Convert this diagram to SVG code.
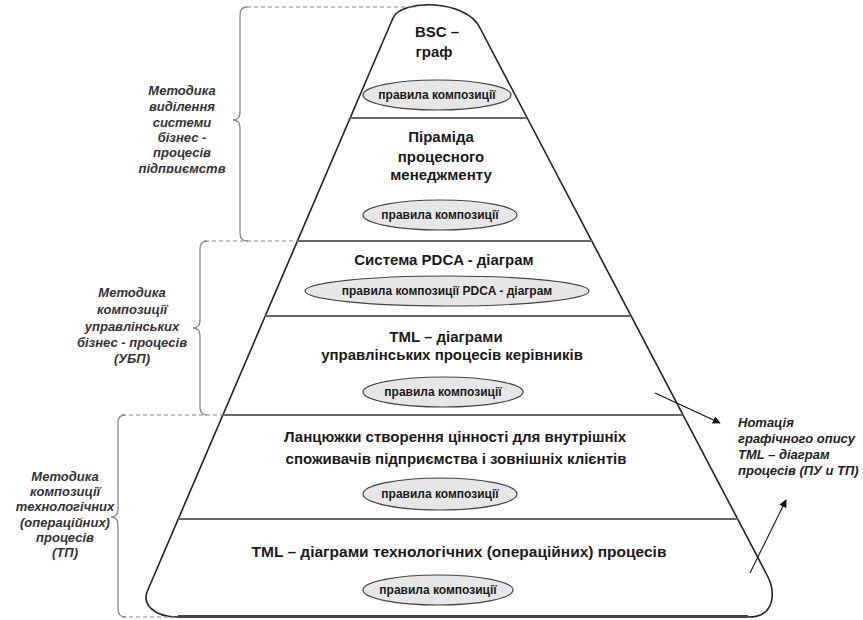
<svg xmlns="http://www.w3.org/2000/svg" width="863" height="620" viewBox="0 0 863 620">
<style>
.title{font-family:"Liberation Sans",Arial,sans-serif;font-weight:bold;font-size:15px;fill:#1a1a1a;text-anchor:middle}
.rule{font-family:"Liberation Sans",Arial,sans-serif;font-weight:bold;font-size:12px;fill:#1a1a1a;text-anchor:middle}
.side{font-family:"Liberation Sans",Arial,sans-serif;font-weight:bold;font-style:italic;font-size:13px;fill:#333;text-anchor:middle}
.note{font-family:"Liberation Sans",Arial,sans-serif;font-weight:bold;font-style:italic;font-size:13px;fill:#222}
.ell{fill:#e6e6e6;stroke:#444;stroke-width:1.2}
.sep{stroke:#666;stroke-width:2;fill:none}
.brace{stroke:#888;stroke-width:1.3;fill:none}
.dash{stroke:#888;stroke-width:1.2;stroke-dasharray:4 3;fill:none}
.arr{stroke:#111;stroke-width:1.1;fill:none;marker-end:url(#ah)}
</style>
<defs>
<marker id="ah" viewBox="0 0 10 10" refX="9" refY="5" markerWidth="8" markerHeight="8" orient="auto" markerUnits="userSpaceOnUse">
<path d="M0,0 L10,5 L0,10 Z" fill="#111"/>
</marker>
<clipPath id="cl1"><rect x="0" y="0" width="240" height="173"/></clipPath>
</defs>
<rect width="863" height="620" fill="#fff"/>

<g id="pyramid">
<path d="M 178,617 C 152,617 143,603 147,592 L 393,18 C 401,-1 466,-1 480,28 L 767,575 C 775,590 777,617 748,617 Z" fill="#fff" stroke="#222" stroke-width="1.6"/>
<line x1="178" y1="616.5" x2="748" y2="616.5" stroke="#444" stroke-width="3"/>
<line class="sep" x1="350" y1="118" x2="527" y2="118"/>
<line class="sep" x1="297" y1="241" x2="592" y2="241"/>
<line class="sep" x1="265" y1="316" x2="631" y2="316"/>
<line class="sep" x1="223" y1="415" x2="683" y2="415"/>
<line class="sep" x1="178" y1="519" x2="738" y2="519"/>
</g>

<g id="level1">
<text class="title" x="437" y="37">BSC –</text>
<text class="title" x="434" y="57">граф</text>
<ellipse class="ell" cx="437" cy="95" rx="74" ry="15"/>
<text class="rule" x="437" y="99">правила композиції</text>
</g>

<g id="level2">
<text class="title" x="441" y="142">Піраміда</text>
<text class="title" x="441" y="162">процесного</text>
<text class="title" x="441" y="180">менеджменту</text>
<ellipse class="ell" cx="440" cy="215" rx="77" ry="15"/>
<text class="rule" x="440" y="219">правила композиції</text>
</g>

<g id="level3">
<text class="title" x="444" y="265">Система PDCA - діаграм</text>
<ellipse class="ell" cx="447" cy="291" rx="142" ry="15"/>
<text class="rule" x="447" y="295">правила композиції PDCA - діаграм</text>
</g>

<g id="level4">
<text class="title" x="446" y="342">TML – діаграми</text>
<text class="title" x="452" y="360">управлінських процесів керівників</text>
<ellipse class="ell" cx="443" cy="392" rx="80" ry="15"/>
<text class="rule" x="443" y="396">правила композиції</text>
</g>

<g id="level5">
<text class="title" x="455" y="442">Ланцюжки створення цінності для внутрішніх</text>
<text class="title" x="456" y="464">споживачів підприємства і зовнішніх клієнтів</text>
<ellipse class="ell" cx="440" cy="494" rx="77" ry="16"/>
<text class="rule" x="440" y="498">правила композиції</text>
</g>

<g id="level6">
<text class="title" x="459" y="557" style="font-size:15.5px">TML – діаграми технологічних (операційних) процесів</text>
<ellipse class="ell" cx="438" cy="590" rx="75" ry="15"/>
<text class="rule" x="438" y="594">правила композиції</text>
</g>

<g id="label-top">
<g clip-path="url(#cl1)">
<text class="side" x="182" y="95">Методика</text>
<text class="side" x="182" y="111">виділення</text>
<text class="side" x="182" y="127">системи</text>
<text class="side" x="182" y="142">бізнес -</text>
<text class="side" x="182" y="157">процесів</text>
<text class="side" x="182" y="173">підприємств</text>
</g>
</g>

<g id="label-mid">
<text class="side" x="132" y="297">Методика</text>
<text class="side" x="132" y="314">композиції</text>
<text class="side" x="132" y="331">управлінських</text>
<text class="side" x="132" y="347">бізнес - процесів</text>
<text class="side" x="132" y="363">(УБП)</text>
</g>

<g id="label-bottom">
<text class="side" x="65" y="481">Методика</text>
<text class="side" x="65" y="496">композиції</text>
<text class="side" x="65" y="511">технологічних</text>
<text class="side" x="65" y="527">(операційних)</text>
<text class="side" x="65" y="542">процесів</text>
<text class="side" x="65" y="557">(ТП)</text>
</g>

<g id="label-right">
<text class="note" x="738" y="427">Нотація</text>
<text class="note" x="738" y="443">графічного опису</text>
<text class="note" x="738" y="459">TML – діаграм</text>
<text class="note" x="738" y="475">процесів (ПУ и ТП)</text>
</g>

<g id="connectors">
<path class="brace" d="M 247,7 Q 240,7 240,15 L 240,112 Q 240,120 233,120 Q 240,120 240,128 L 240,233 Q 240,241 248,241"/>
<line class="dash" x1="247" y1="7" x2="416" y2="7"/>
<line class="dash" x1="205" y1="241" x2="297" y2="241"/>
<path class="brace" d="M 207,241 Q 200,241 200,249 L 200,320 Q 200,328 193,328 Q 200,328 200,336 L 200,407 Q 200,415 207,415"/>
<line class="dash" x1="122" y1="415" x2="223" y2="415"/>
<path class="brace" d="M 125,415 Q 118,415 118,423 L 118,509 Q 118,517 111,517 Q 118,517 118,525 L 118,609 Q 118,617 126,617"/>
<line class="dash" x1="122" y1="617" x2="176" y2="617"/>
<line class="arr" x1="655" y1="393" x2="720" y2="423"/>
<line class="arr" x1="750" y1="573" x2="786" y2="500"/>
</g>
</svg>
